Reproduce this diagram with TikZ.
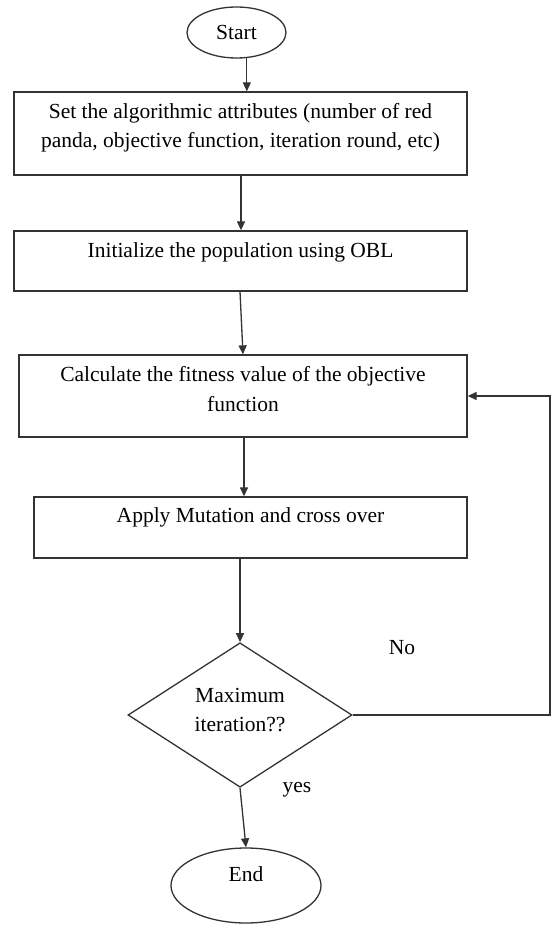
\documentclass[tikz,border=0pt]{standalone}
\usepackage{fontspec}
\setmainfont{Liberation Serif}
\usetikzlibrary{shapes.geometric,arrows.meta}
\begin{document}
\begin{tikzpicture}[x=1pt,y=-1pt,
  base/.style={draw=black!80, line width=1.3pt, inner sep=0pt, align=center,
    font=\fontsize{21.5}{29.5}\selectfont},
  proc/.style={base, rectangle},
  term/.style={base, ellipse},
  decision/.style={base, diamond},
  arr/.style={draw=black!80, line width=1.3pt, -{Triangle[length=9pt,width=8pt]}},
  lbl/.style={font=\fontsize{21.5}{29.5}\selectfont, inner sep=0pt}]
\useasboundingbox (0,0) rectangle (552,925);
\node[term, minimum width=99pt, minimum height=51pt] (start) at (236.5,32.5) {Start};
\node[proc, minimum width=453pt, minimum height=83pt, text depth=16pt] (b1) at (240.5,133.5)
  {Set the algorithmic attributes (number of red\\panda, objective function, iteration round, etc)};
\node[proc, minimum width=453pt, minimum height=60pt, text depth=22.7pt] (b2) at (240.5,261)
  {Initialize the population using OBL};
\node[proc, minimum width=448pt, minimum height=82pt, text depth=14pt] (b3) at (243,396)
  {Calculate the fitness value of the objective\\function};
\node[proc, minimum width=433pt, minimum height=61pt, text depth=25.7pt] (b4) at (250.5,527.5)
  {Apply Mutation and cross over};
\node[decision, minimum width=224pt, minimum height=132pt, text depth=10pt] (dia) at (240,715)
  {Maximum\\iteration??};
\node[term, minimum width=150pt, minimum height=75pt, text depth=22pt] (end) at (246,885.5) {End};
\node[lbl] (no) at (402,648) {No};
\node[lbl] (yes) at (297,790) {yes};
\coordinate (x241) at (241,0);
\coordinate (x240) at (240,0);
\coordinate (x243) at (243,0);
\coordinate (x244) at (244,0);
\coordinate (fb) at (550,396);
\draw[arr] (start.-68) -- (b1.north -| start.-68);
\draw[arr] (b1.south -| x241) -- (b2.north -| x241);
\draw[arr] (b2.south -| x240) -- (b3.north -| x243);
\draw[arr] (b3.south -| x244) -- (b4.north -| x244);
\draw[arr] (b4.south -| dia.north) -- (dia.north);
\draw[arr] (dia.south) -- (end.north);
\draw[arr] (dia.east) -| (fb) -- (b3.east);
\end{tikzpicture}
\end{document}
